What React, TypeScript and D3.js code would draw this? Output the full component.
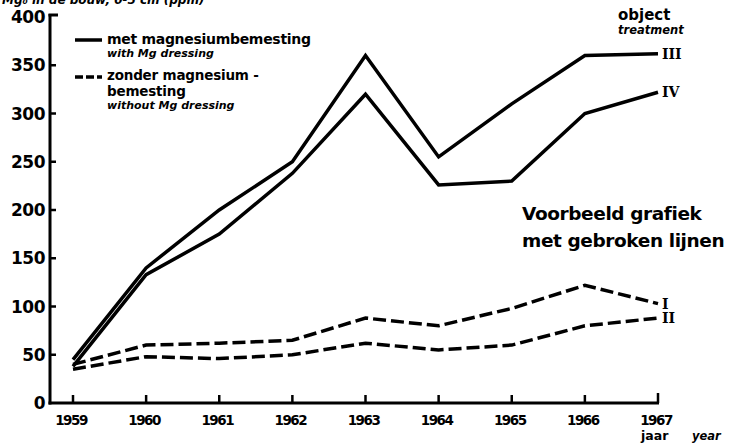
import React, { useEffect, useRef } from 'react';
import * as d3 from 'd3';

const years = [1959, 1960, 1961, 1962, 1963, 1964, 1965, 1966, 1967];
const yTicks = [0, 50, 100, 150, 200, 250, 300, 350, 400];

// solid: met magnesiumbemesting
const seriesIII = [45, 140, 200, 250, 360, 255, 310, 360, 362];
const seriesIV = [38, 133, 175, 238, 320, 226, 230, 300, 322];
// dashed: zonder magnesiumbemesting
const seriesI = [40, 60, 62, 65, 88, 80, 98, 122, 103];
const seriesII = [35, 48, 46, 50, 62, 55, 60, 80, 88];

const seriesList = [
  { name: 'III', values: seriesIII, dashed: false },
  { name: 'IV', values: seriesIV, dashed: false },
  { name: 'I', values: seriesI, dashed: true },
  { name: 'II', values: seriesII, dashed: true },
];

const FONT = '"DejaVu Sans", Verdana, sans-serif';

export default function App() {
  const svgRef = useRef<SVGSVGElement>(null);

  useEffect(() => {
    const svg = d3.select(svgRef.current);
    svg.selectAll('*').remove();

    const x = d3.scaleLinear().domain([1959, 1967]).range([73, 658]);
    const y = d3.scaleLinear().domain([0, 400]).range([403, 17]);

    const g = svg.append('g').attr('font-family', FONT).attr('fill', '#000');

    // title, cut off at the top as in the scan
    g.append('text')
      .attr('x', 2)
      .attr('y', 3.5)
      .attr('font-size', 12)
      .attr('font-weight', 'bold')
      .attr('font-style', 'italic')
      .text('Mg\u2080 in de bouw, 0-5 cm (ppm)');

    // axes
    const axisG = g.append('g');
    axisG.append('line')
      .attr('x1', 50).attr('x2', 50)
      .attr('y1', 14).attr('y2', y(0) + 1.5)
      .attr('stroke', '#000').attr('stroke-width', 3);
    axisG.append('line')
      .attr('x1', 48.5).attr('x2', 58)
      .attr('y1', 15).attr('y2', 15)
      .attr('stroke', '#000').attr('stroke-width', 3);
    axisG.append('line')
      .attr('x1', 48.5).attr('x2', x(1967) + 1)
      .attr('y1', y(0)).attr('y2', y(0))
      .attr('stroke', '#000').attr('stroke-width', 3);

    yTicks.forEach(t => {
      if (t > 0 && t < 400) {
        axisG.append('line')
          .attr('x1', 50).attr('x2', 56)
          .attr('y1', y(t)).attr('y2', y(t))
          .attr('stroke', '#000').attr('stroke-width', 2.5);
      }
      axisG.append('text')
        .attr('x', 45)
        .attr('y', t === 400 ? 23 : y(t) + 6)
        .attr('text-anchor', 'end')
        .attr('font-size', 17)
        .attr('font-weight', 'bold')
        .attr('letter-spacing', -0.5)
        .text(t);
    });

    years.forEach(yr => {
      axisG.append('line')
        .attr('x1', x(yr)).attr('x2', x(yr))
        .attr('y1', y(0)).attr('y2', y(0) - (yr === 1967 ? 10 : 8))
        .attr('stroke', '#000').attr('stroke-width', 2.5);
      axisG.append('text')
        .attr('x', x(yr) - 2)
        .attr('y', 425)
        .attr('text-anchor', 'middle')
        .attr('font-size', 13.5)
        .attr('font-weight', 'bold')
        .attr('letter-spacing', -1.5)
        .text(yr);
    });

    g.append('text')
      .attr('x', 641).attr('y', 440)
      .attr('font-size', 12.5).attr('font-weight', 'bold')
      .text('jaar');
    g.append('text')
      .attr('x', 692).attr('y', 440)
      .attr('font-size', 11.5).attr('font-weight', 'bold').attr('font-style', 'italic')
      .text('year');

    // lines
    const line = d3.line<number>()
      .x((_, i) => x(years[i]))
      .y(d => y(d));

    seriesList.forEach(s => {
      g.append('path')
        .datum(s.values)
        .attr('fill', 'none')
        .attr('stroke', '#000')
        .attr('stroke-width', 3.5)
        .attr('stroke-linejoin', 'miter')
        .attr('stroke-dasharray', s.dashed ? '13,5' : null)
        .attr('d', line);
      g.append('text')
        .attr('x', x(1967) + 4)
        .attr('y', y(s.values[s.values.length - 1]) + 5)
        .attr('font-family', '"DejaVu Serif", serif')
        .attr('font-size', 14)
        .attr('font-weight', 'bold')
        .text(s.name);
    });

    // legend
    const leg = g.append('g');
    leg.append('line')
      .attr('x1', 75).attr('x2', 102).attr('y1', 40).attr('y2', 40)
      .attr('stroke', '#000').attr('stroke-width', 3.5);
    leg.append('text')
      .attr('x', 107).attr('y', 44)
      .attr('font-size', 14).attr('font-weight', 'bold').attr('letter-spacing', -0.3)
      .text('met magnesiumbemesting');
    leg.append('text')
      .attr('x', 107).attr('y', 57)
      .attr('font-size', 11).attr('font-weight', 'bold').attr('font-style', 'italic')
      .text('with Mg  dressing');
    leg.append('line')
      .attr('x1', 75).attr('x2', 102).attr('y1', 77).attr('y2', 77)
      .attr('stroke', '#000').attr('stroke-width', 3.5)
      .attr('stroke-dasharray', '8,3');
    leg.append('text')
      .attr('x', 107).attr('y', 80)
      .attr('font-size', 13.5).attr('font-weight', 'bold').attr('letter-spacing', -0.2)
      .text('zonder magnesium -');
    leg.append('text')
      .attr('x', 107).attr('y', 95.5)
      .attr('font-size', 13.5).attr('font-weight', 'bold').attr('letter-spacing', -0.2)
      .text('bemesting');
    leg.append('text')
      .attr('x', 107).attr('y', 108.5)
      .attr('font-size', 11).attr('font-weight', 'bold').attr('font-style', 'italic')
      .text('without Mg dressing');

    g.append('text')
      .attr('x', 618).attr('y', 20)
      .attr('font-size', 15).attr('font-weight', 'bold')
      .text('object');
    g.append('text')
      .attr('x', 618).attr('y', 34)
      .attr('font-size', 11.5).attr('font-weight', 'bold').attr('font-style', 'italic')
      .text('treatment');

    g.append('text')
      .attr('x', 522).attr('y', 220)
      .attr('font-size', 18.5).attr('font-weight', 'bold').attr('letter-spacing', -0.4)
      .text('Voorbeeld grafiek');
    g.append('text')
      .attr('x', 522).attr('y', 247)
      .attr('font-size', 18.5).attr('font-weight', 'bold').attr('letter-spacing', -0.4)
      .text('met gebroken lijnen');
  }, []);

  return (
    <svg
      ref={svgRef}
      width={734}
      height={445}
      style={{ position: 'absolute', left: 0, top: 0, background: '#fff' }}
    />
  );
}
